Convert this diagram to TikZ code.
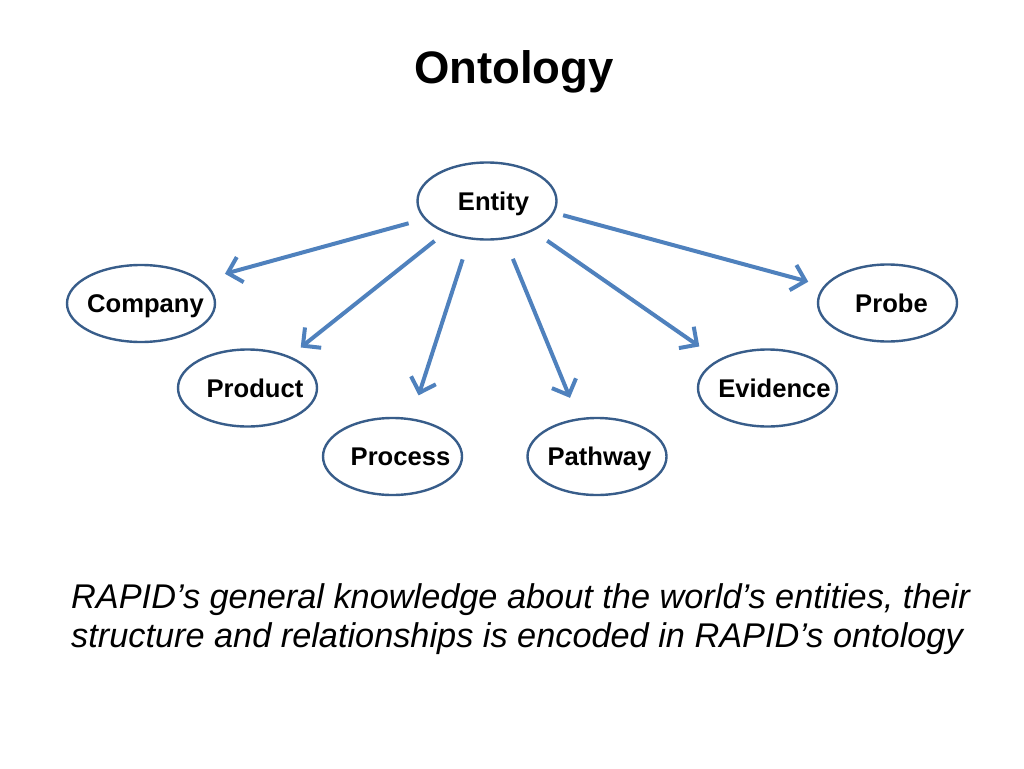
\documentclass[tikz,border=0pt]{standalone}
\usepackage{fontspec}
\setmainfont{Liberation Sans}
\usetikzlibrary{shapes.geometric,arrows.meta}
\definecolor{linkblue}{HTML}{4F81BD}
\definecolor{rimblue}{HTML}{385D8A}
% word set in a box of no width, moved right by #1pt
\newcommand{\termtext}[2]{\makebox[0pt]{\kern#1pt #2\kern-#1pt}}
\tikzset{
  term/.style={ellipse, draw=rimblue, line width=2.4pt, inner sep=0pt,
    minimum width=139pt, minimum height=77pt, text height=18.4pt, text depth=0pt,
    font=\fontsize{25.6}{30}\selectfont\bfseries},
  isa/.style={draw=linkblue, line width=4pt, -{Straight Barb[length=13pt,width=26pt]}},
  caption/.style={anchor=base west, inner sep=0pt, font=\fontsize{34.3}{38}\selectfont\itshape}
}
\begin{document}
\begin{tikzpicture}[x=1pt,y=-1pt]
\useasboundingbox (0,0) rectangle (1024,768);
\node[anchor=base, font=\fontsize{45.5}{54}\selectfont\bfseries] (title) at (514,83) {Ontology};
%%
\node[term] (entity) at (487,201) {\termtext{6.5}{Entity}};
\node[term, minimum width=148pt] (company) at (141,303.5) {\termtext{4.5}{Company}};
\node[term] (product) at (247.5,388) {\termtext{7.5}{Product}};
\node[term] (process) at (392.5,456.5) {\termtext{8}{Process}};
\node[term] (pathway) at (597,456.5) {\termtext{2.5}{Pathway}};
\node[term] (evidence) at (767.5,388) {\termtext{7}{Evidence}};
\node[term] (probe) at (887.5,303) {\termtext{4}{Probe}};
%%
\draw[isa, shorten <=16pt, shorten >=24pt] (entity.196) -- (company.21);
\draw[isa, shorten <=13pt, shorten >=14pt] (entity.217) -- (product.37);
\draw[isa, shorten <=21pt, shorten >=24pt] (entity.245) -- (process.64);
\draw[isa, shorten <=21pt, shorten >=22pt] (entity.295) -- (pathway.116);
\draw[isa, shorten <=17pt, shorten >=23pt] (entity.327) -- (evidence.150);
\draw[isa, shorten <=9pt, shorten >=16pt] (entity.350) -- (probe.165);
%%
\node[caption] (line1) at (71,608) {RAPID’s general knowledge about the world’s entities, their};
\node[caption] (line2) at (71,647) {structure and relationships is encoded in RAPID’s ontology};
\end{tikzpicture}
\end{document}
